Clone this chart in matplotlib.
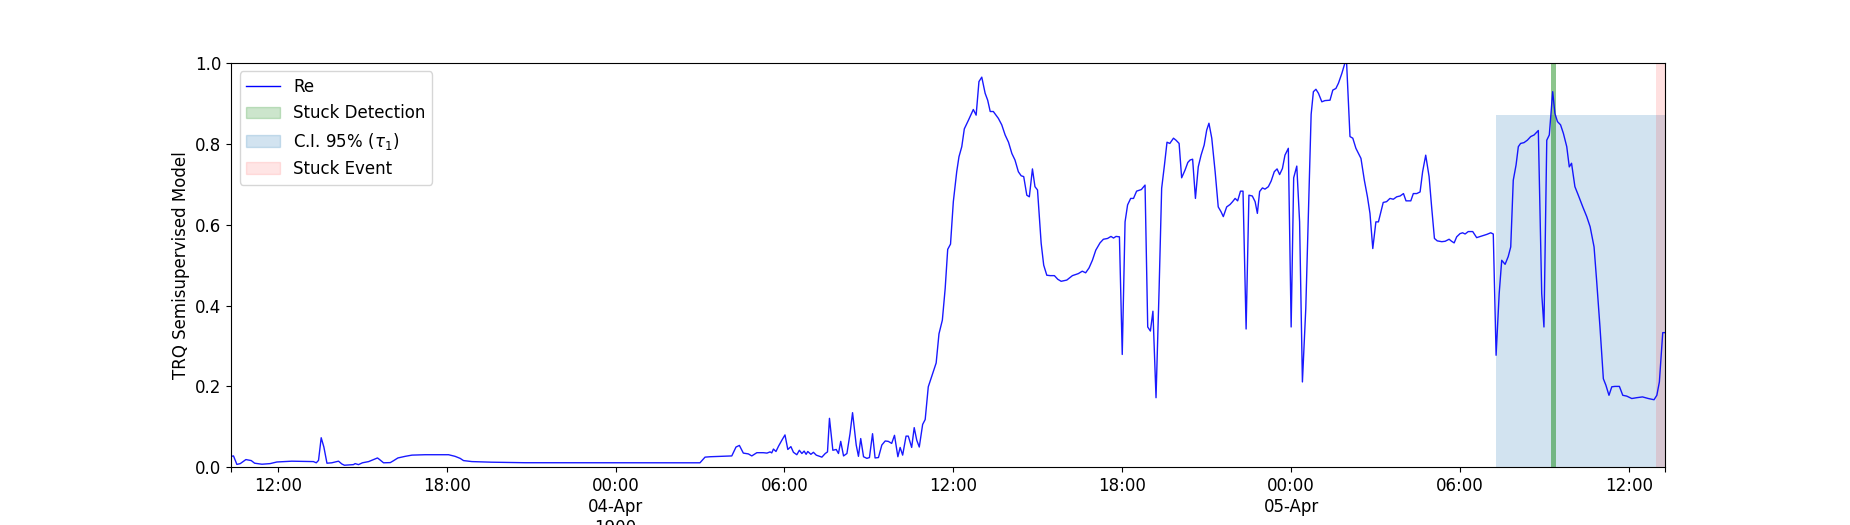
import numpy as np
import pandas as pd
import matplotlib
matplotlib.use("Agg")
import matplotlib.pyplot as plt
from matplotlib.patches import Patch
from matplotlib.lines import Line2D

plt.rcParams['font.size'] = 12

# tiempo en horas desde 1900-04-03 12:00
horas = [
    -1.65, -1.57, -1.45, -1.33, -1.13, -0.94, -0.82, -0.56, -0.27, -0.03,
    0.50, 1.27, 1.37, 1.45, 1.545, 1.64, 1.75, 1.92, 2.16, 2.28,
    2.37, 2.69, 2.75, 2.87, 3.01, 3.23, 3.40, 3.545, 3.62, 3.76,
    4.00, 4.11, 4.27, 4.53, 4.77, 5.24, 6.07, 6.30, 6.48, 6.60,
    6.90, 7.60, 8.79, 15.00, 15.18, 15.36, 16.13, 16.28, 16.40, 16.54,
    16.72, 16.84, 17.02, 17.25, 17.38, 17.49, 17.55, 17.61, 17.70, 17.79,
    17.91, 18.02, 18.12, 18.23, 18.32, 18.44, 18.53, 18.62, 18.70, 18.77,
    18.83, 18.94, 19.03, 19.13, 19.33, 19.45, 19.53, 19.60, 19.72, 19.84,
    19.92, 20.00, 20.10, 20.22, 20.33, 20.42, 20.55, 20.63, 20.71, 20.81,
    20.93, 21.02, 21.13, 21.22, 21.34, 21.46, 21.58, 21.69, 21.81, 21.91,
    22.03, 22.11, 22.20, 22.32, 22.40, 22.52, 22.61, 22.70, 22.79, 22.91,
    23.00, 23.11, 23.21, 23.39, 23.49, 23.61, 23.71, 23.80, 23.90, 24.00,
    24.12, 24.20, 24.30, 24.39, 24.54, 24.71, 24.81, 24.91, 25.01, 25.13,
    25.22, 25.31, 25.42, 25.60, 25.72, 25.84, 25.96, 26.08, 26.19, 26.31,
    26.41, 26.50, 26.61, 26.70, 26.81, 26.90, 26.99, 27.12, 27.21, 27.32,
    27.44, 27.59, 27.71, 27.83, 28.03, 28.23, 28.44, 28.58, 28.70, 28.82,
    28.94, 29.06, 29.21, 29.33, 29.48, 29.60, 29.69, 29.78, 29.90, 30.00,
    30.10, 30.19, 30.30, 30.40, 30.51, 30.68, 30.81, 30.905, 31.00, 31.09,
    31.20, 31.31, 31.40, 31.50, 31.59, 31.69, 31.82, 31.91, 32.02, 32.11,
    32.23, 32.33, 32.41, 32.50, 32.60, 32.70, 32.80, 32.91, 33.00, 33.08,
    33.18, 33.30, 33.41, 33.51, 33.59, 33.71, 33.83, 33.92, 34.01, 34.10,
    34.20, 34.29, 34.40, 34.50, 34.62, 34.72, 34.80, 34.88, 34.98, 35.07,
    35.19, 35.29, 35.40, 35.50, 35.59, 35.69, 35.78, 35.90, 36.00, 36.09,
    36.20, 36.30, 36.40, 36.52, 36.62, 36.71, 36.79, 36.88, 36.97, 37.09,
    37.20, 37.38, 37.48, 37.59, 37.68, 37.80, 37.91, 37.97, 38.09, 38.19,
    38.30, 38.48, 38.60, 38.71, 38.80, 38.90, 39.01, 39.10, 39.27, 39.39,
    39.51, 39.63, 39.75, 39.87, 39.99, 40.08, 40.25, 40.34, 40.46, 40.58,
    40.67, 40.78, 40.90, 40.99, 41.09, 41.19, 41.35, 41.47, 41.61, 41.70,
    41.79, 41.88, 42.00, 42.09, 42.18, 42.29, 42.45, 42.59, 42.77, 42.95,
    43.09, 43.18, 43.28, 43.39, 43.48, 43.60, 43.71, 43.80, 43.89, 43.99,
    44.07, 44.15, 44.27, 44.39, 44.51, 44.63, 44.78, 44.90, 44.98, 45.08,
    45.17, 45.23, 45.29, 45.37, 45.46, 45.57, 45.67, 45.79, 45.88, 45.96,
    46.08, 46.20, 46.36, 46.50, 46.62, 46.76, 46.85, 46.97, 47.09, 47.18,
    47.29, 47.39, 47.50, 47.66, 47.78, 47.92, 48.10, 48.27, 48.48, 48.69,
    48.89, 48.99, 49.08, 49.20, 49.28,
]

re_vals = [
    0.027, 0.028, 0.007, 0.009, 0.019, 0.0165, 0.010, 0.0075, 0.009, 0.013,
    0.015, 0.014, 0.011, 0.017, 0.073, 0.050, 0.010, 0.011, 0.015, 0.008,
    0.005, 0.0065, 0.009, 0.0065, 0.011, 0.014, 0.019, 0.023, 0.019, 0.011,
    0.0115, 0.016, 0.023, 0.027, 0.030, 0.031, 0.031, 0.027, 0.022, 0.0165,
    0.014, 0.0125, 0.0112, 0.011, 0.025, 0.026, 0.028, 0.050, 0.054, 0.035,
    0.033, 0.028, 0.036, 0.036, 0.035, 0.038, 0.0355, 0.045, 0.039, 0.052,
    0.067, 0.080, 0.044, 0.051, 0.037, 0.031, 0.042, 0.034, 0.040, 0.032,
    0.039, 0.032, 0.037, 0.030, 0.025, 0.034, 0.038, 0.121, 0.042, 0.044,
    0.034, 0.064, 0.028, 0.034, 0.083, 0.135, 0.055, 0.027, 0.071, 0.026,
    0.022, 0.024, 0.083, 0.023, 0.024, 0.055, 0.065, 0.064, 0.059, 0.079,
    0.026, 0.049, 0.030, 0.077, 0.077, 0.049, 0.098, 0.067, 0.050, 0.106,
    0.118, 0.199, 0.220, 0.258, 0.330, 0.364, 0.442, 0.539, 0.552, 0.657,
    0.731, 0.768, 0.793, 0.837, 0.859, 0.885, 0.871, 0.954, 0.965, 0.925,
    0.908, 0.880, 0.880, 0.863, 0.847, 0.822, 0.804, 0.776, 0.760, 0.731,
    0.721, 0.719, 0.673, 0.669, 0.738, 0.694, 0.686, 0.554, 0.500, 0.475,
    0.474, 0.474, 0.465, 0.460, 0.463, 0.474, 0.479, 0.485, 0.481, 0.493,
    0.512, 0.537, 0.555, 0.564, 0.566, 0.571, 0.567, 0.571, 0.570, 0.279,
    0.607, 0.649, 0.665, 0.665, 0.683, 0.687, 0.698, 0.347, 0.337, 0.386,
    0.172, 0.442, 0.690, 0.748, 0.804, 0.801, 0.814, 0.809, 0.801, 0.716,
    0.735, 0.754, 0.760, 0.762, 0.665, 0.743, 0.772, 0.797, 0.834, 0.851,
    0.814, 0.731, 0.644, 0.632, 0.620, 0.644, 0.650, 0.657, 0.665, 0.659,
    0.683, 0.683, 0.342, 0.673, 0.671, 0.657, 0.628, 0.682, 0.691, 0.688,
    0.694, 0.708, 0.731, 0.738, 0.724, 0.739, 0.772, 0.789, 0.347, 0.716,
    0.745, 0.607, 0.211, 0.393, 0.649, 0.873, 0.929, 0.935, 0.925, 0.904,
    0.907, 0.908, 0.933, 0.937, 0.950, 0.974, 1.000, 1.000, 0.818, 0.814,
    0.789, 0.764, 0.710, 0.669, 0.628, 0.541, 0.607, 0.607, 0.655, 0.657,
    0.665, 0.663, 0.669, 0.671, 0.677, 0.659, 0.659, 0.677, 0.677, 0.681,
    0.731, 0.772, 0.719, 0.644, 0.566, 0.560, 0.558, 0.559, 0.564, 0.559,
    0.555, 0.570, 0.578, 0.580, 0.577, 0.583, 0.583, 0.568, 0.572, 0.576,
    0.580, 0.577, 0.277, 0.430, 0.512, 0.502, 0.521, 0.545, 0.710, 0.748,
    0.793, 0.801, 0.803, 0.809, 0.818, 0.822, 0.833, 0.430, 0.347, 0.809,
    0.822, 0.875, 0.929, 0.875, 0.855, 0.847, 0.826, 0.793, 0.743, 0.752,
    0.694, 0.673, 0.644, 0.620, 0.595, 0.545, 0.463, 0.347, 0.219, 0.203,
    0.178, 0.199, 0.200, 0.200, 0.178, 0.176, 0.170, 0.172, 0.174, 0.170,
    0.167, 0.178, 0.211, 0.333, 0.333,
]

# zonas sombreadas (horas desde 1900-04-03 12:00)
ci_inicio, ci_fin, ci_alto = 43.28, 49.28, 0.871
deteccion = (45.23, 45.40)
evento = (48.96, 49.28)

base = pd.Timestamp('1900-04-03 12:00')
def a_fecha(h):
    return base + pd.to_timedelta(h, unit='h')

t = a_fecha(np.array(horas))

fig = plt.figure(figsize=(18.5, 5.25), dpi=100)
ax = fig.add_subplot(111)

ax.plot(t, re_vals, color='blue', linewidth=1, alpha=0.9)
ax.fill_between([a_fecha(ci_inicio), a_fecha(ci_fin)], 0, ci_alto,
                color='tab:blue', alpha=0.2, linewidth=0)
ax.axvspan(a_fecha(deteccion[0]), a_fecha(deteccion[1]), color='green', alpha=0.45, linewidth=0)
ax.axvspan(a_fecha(evento[0]), a_fecha(evento[1]), color='red', alpha=0.12, linewidth=0)

ax.set_xlim(t[0], t[-1])
ax.set_ylim(0, 1)
ax.set_ylabel('TRQ Semisupervised Model')

# ticks cada 6 horas
ticks = pd.date_range('1900-04-03 12:00', '1900-04-05 12:00', freq='6h')
etiquetas = []
primero = True
for d in ticks:
    if d.hour == 0:
        if primero:
            etiquetas.append(d.strftime('%H:%M\n%d-%b\n%Y'))
            primero = False
        else:
            etiquetas.append(d.strftime('%H:%M\n%d-%b'))
    else:
        etiquetas.append(d.strftime('%H:%M'))
ax.set_xticks(ticks)
ax.set_xticklabels(etiquetas)
ax.set_xticks([t[0], t[-1]], minor=True)
ax.tick_params(axis='x', which='minor', length=3.5, width=0.8)

handles = [
    Line2D([0], [0], color='blue', linewidth=1),
    Patch(color='green', alpha=0.2),
    Patch(color='tab:blue', alpha=0.2),
    Patch(color='red', alpha=0.1),
]
ax.legend(handles, ['Re', 'Stuck Detection', r'C.I. 95% ($\tau_1$)', 'Stuck Event'],
          loc='upper left')

plt.savefig('out.png', dpi=100)
plt.close()
